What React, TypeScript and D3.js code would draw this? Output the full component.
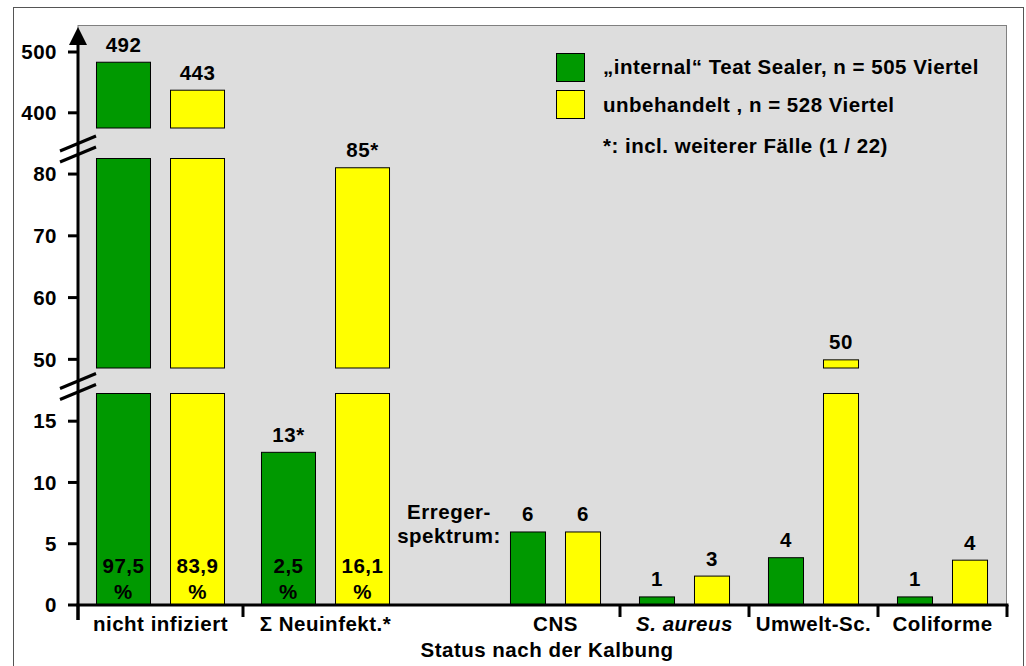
import React from 'react';
import * as d3 from 'd3';

// ---------- data ----------
const groupsA = ['nicht infiziert', '\u03A3 Neuinfekt.*'];
const groupsB = ['CNS', 'S. aureus', 'Umwelt-Sc.', 'Coliforme'];
const seriesKeys = ['treated', 'untreated'];
const seriesNames = ['\u201Einternal\u201C Teat Sealer, n = 505 Viertel', 'unbehandelt , n = 528 Viertel'];
// bar heights as drawn
const greenHeights = [484, 12.5, 6, 0.7, 3.9, 0.7];
const yellowHeights = [438, 81.1, 6, 2.4, 50, 3.7];
// value labels printed above the bars
const greenLabels = ['492', '13*', '6', '1', '4', '1'];
const yellowLabels = ['443', '85*', '6', '3', '50', '4'];
const greenPercent = ['97,5', '2,5'];
const yellowPercent = ['83,9', '16,1'];
// broken axis segments: visible domain and ticks
const segDomains: [number, number][] = [[0, 17.3], [48.6, 82.6], [375, 500]];
const segTicks = [[0, 5, 10, 15], [50, 60, 70, 80], [400, 500]];
const footnote = '*: incl. weiterer F\u00E4lle (1 / 22)';
const xTitle = 'Status nach der Kalbung';

const colors = ['#009900', '#FFFF00'];
const FONT = '"Liberation Sans", Arial, Helvetica, sans-serif';

export default function App() {
  const W = 1026, H = 666;
  const left = 78, right = 1007, top = 25, bottom = 605;

  // y segments (piecewise linear)
  const segRanges: [number, number][] = [[605, 393], [368, 158], [128, 52]];
  const ySegs = segDomains.map((d, i) => d3.scaleLinear().domain(d).range(segRanges[i]));

  // x scales
  const x0A = d3.scaleBand<string>().domain(groupsA).range([left, 408]).padding(0);
  const x1A = d3.scaleBand<string>().domain(seriesKeys).range([0, x0A.bandwidth()]).paddingInner(0.257).paddingOuter(0.243);
  const x0B = d3.scaleBand<string>().domain(groupsB).range([491, right]).padding(0);
  const x1B = d3.scaleBand<string>().domain(seriesKeys).range([0, x0B.bandwidth()]).paddingInner(0.345).paddingOuter(0.345);

  const allGroups = [...groupsA, ...groupsB];
  const groupX = (gi: number) => (gi < groupsA.length ? (x0A(groupsA[gi]) as number) : (x0B(groupsB[gi - groupsA.length]) as number));
  const groupW = (gi: number) => (gi < groupsA.length ? x0A.bandwidth() : x0B.bandwidth());
  const barX = (gi: number, si: number) => groupX(gi) + ((gi < groupsA.length ? x1A : x1B)(seriesKeys[si]) as number);
  const barW = (gi: number) => (gi < groupsA.length ? x1A.bandwidth() : x1B.bandwidth());

  const valueTop = (v: number) => {
    for (let i = segDomains.length - 1; i >= 0; i--) {
      if (v > segDomains[i][0]) return ySegs[i](Math.min(v, segDomains[i][1]));
    }
    return ySegs[0](v);
  };

  const bars: React.ReactNode[] = [];
  const labels: React.ReactNode[] = [];
  const heights = [greenHeights, yellowHeights];
  const lbls = [greenLabels, yellowLabels];
  const pcts = [greenPercent, yellowPercent];
  allGroups.forEach((g, gi) => {
    [0, 1].forEach((si) => {
      const v = heights[si][gi];
      const x = barX(gi, si);
      const w = barW(gi);
      segDomains.forEach((d, k) => {
        if (v > d[0]) {
          const y1 = ySegs[k](Math.min(v, d[1]));
          const y0 = ySegs[k](d[0]);
          bars.push(
            <rect key={`b${gi}-${si}-${k}`} x={x + 0.5} y={y1 + 0.5} width={w - 1} height={y0 - y1 - 0.5}
              fill={colors[si]} stroke="#000" strokeWidth={1} />
          );
        }
      });
      labels.push(
        <text key={`l${gi}-${si}`} x={x + w / 2} y={valueTop(v) - 10} textAnchor="middle">{lbls[si][gi]}</text>
      );
      if (gi < pcts[si].length) {
        labels.push(
          <text key={`p${gi}-${si}`} x={x + w / 2} y={573} textAnchor="middle">{pcts[si][gi]}</text>,
          <text key={`pp${gi}-${si}`} x={x + w / 2} y={599} textAnchor="middle">%</text>
        );
      }
    });
  });

  // x ticks
  const xTicks = [x0A(groupsA[0]) as number, x0A(groupsA[1]) as number,
    ...groupsB.map((g) => (x0B(g) as number) + x0B.bandwidth())];

  // break marks between segments
  const breaks = [
    (segRanges[0][1] + segRanges[1][0]) / 2 + 6,
    (segRanges[1][1] + segRanges[2][0]) / 2 + 6,
  ];

  return (
    <svg width={W} height={H} style={{ position: 'absolute', left: 0, top: 0 }} fontFamily={FONT} fontWeight="bold" fontSize={20.5} letterSpacing={0.5}>
      <rect x={0} y={0} width={W} height={H} fill="#fff" />
      <rect x={13.5} y={7.5} width={1010} height={700} fill="#fff" stroke="#555" strokeWidth={1} />
      <rect x={left} y={top + 0.5} width={right - left - 0.5} height={bottom - top} fill="#DDDDDD" stroke="#808080" strokeWidth={1} />

      {bars}
      <g fill="#000">{labels}</g>

      {/* y axis */}
      <line x1={left} x2={left} y1={620} y2={42} stroke="#000" strokeWidth={3} />
      <polygon points={`${left - 9},${45} ${left + 9},${45} ${left},${27}`} fill="#000" />
      {segTicks.map((ts, k) => ts.map((t) => (
        <g key={`yt${k}-${t}`}>
          <line x1={68} x2={left} y1={ySegs[k](t)} y2={ySegs[k](t)} stroke="#000" strokeWidth={3} />
          <text x={57} y={ySegs[k](t)} dy="0.35em" textAnchor="end">{t}</text>
        </g>
      )))}
      {breaks.map((c, i) => (
        <g key={`br${i}`} stroke="#000" strokeWidth={3}>
          <line x1={60} y1={c + 2} x2={96} y2={c - 13} />
          <line x1={60} y1={c + 13} x2={96} y2={c - 2} />
        </g>
      ))}

      {/* x axis */}
      <line x1={left - 1.5} x2={right + 1.5} y1={bottom} y2={bottom} stroke="#000" strokeWidth={3} />
      {xTicks.map((t, i) => (
        <line key={`xt${i}`} x1={t} x2={t} y1={bottom} y2={i === 0 ? 620 : 617} stroke="#000" strokeWidth={3} />
      ))}
      {allGroups.map((g, gi) => (
        <text key={`xl${gi}`} x={groupX(gi) + groupW(gi) / 2} y={631} textAnchor="middle"
          fontStyle={g === 'S. aureus' ? 'italic' : 'normal'}>{g}</text>
      ))}
      <text x={547} y={657} textAnchor="middle">{xTitle}</text>

      {/* Erregerspektrum */}
      <text x={449} y={519} textAnchor="middle">Erreger-</text>
      <text x={449} y={543} textAnchor="middle">spektrum:</text>

      {/* legend */}
      {seriesNames.map((n, i) => (
        <g key={`lg${i}`}>
          <rect x={556.5} y={53.5 + i * 37} width={28} height={28} fill={colors[i]} stroke="#000" strokeWidth={1} />
          <text x={603} y={74 + i * 38}>{n}</text>
        </g>
      ))}
      <text x={603} y={153}>{footnote}</text>
    </svg>
  );
}
